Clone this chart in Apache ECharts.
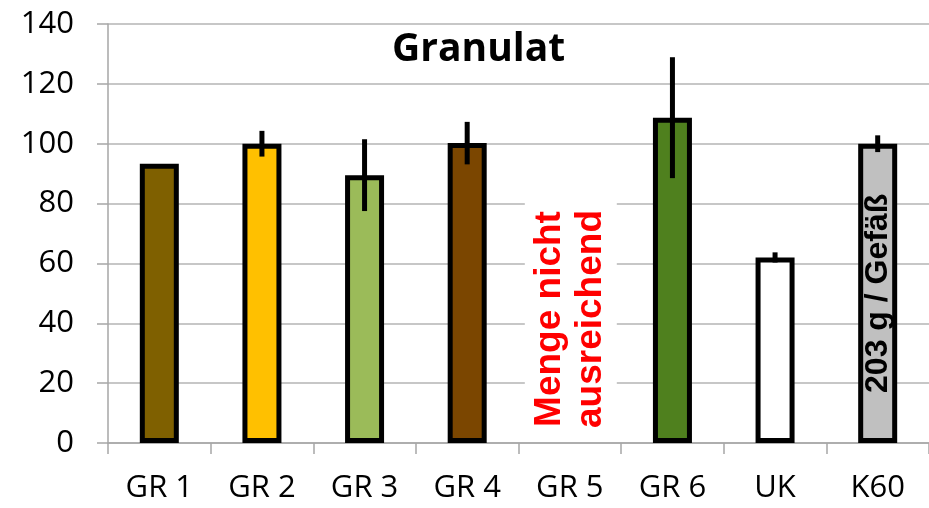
<!DOCTYPE html>
<html>
<head>
<meta charset="utf-8">
<script src="https://cdn.jsdelivr.net/npm/echarts@6/dist/echarts.min.js"></script>
<style>html,body{margin:0;padding:0;background:#fff}#c{width:929px;height:508px}</style>
</head>
<body>
<div id="c"></div>
<script>
var categories = ['GR 1','GR 2','GR 3','GR 4','GR 5','GR 6','UK','K60'];
var values = [93.3, 100, 89.5, 100.2, null, 108.7, 62, 100];
var errors = [0, 4.3, 12, 7.1, null, 20.2, 1.7, 2.8];
var barColors = ['#7F6000','#FFC000','#9BBB59','#7B4600','#FFFFFF','#4F801E','#FFFFFF','#C0C0C0'];
var yTicks = [0, 20, 40, 60, 80, 100, 120, 140];
var titleText = 'Granulat';
var noteText = 'Menge nicht\nausreichend';
var noteIndex = 4;
var barNote = '203 g / Gefäß';
var barNoteIndex = 7;

var chart = echarts.init(document.getElementById('c'));
var barData = values.map(function (v, i) {
  var item = { value: v, itemStyle: { color: barColors[i] } };
  if (i === barNoteIndex) {
    item.label = {
      show: true, position: 'inside', rotate: 90, formatter: barNote,
      fontFamily: 'Liberation Sans', fontWeight: 'bold', fontSize: 32, color: '#000'
    };
  }
  return item;
});
var errData = values.map(function (v, i) { return [i, v, errors[i]]; });

chart.setOption({
  animation: false,
  title: {
    text: titleText, left: 387, top: 25,
    textStyle: { fontFamily: 'Open Sans', fontWeight: 'bold', fontSize: 39, color: '#000' }
  },
  grid: { left: 108, right: 0, top: 24, bottom: 65 },
  xAxis: {
    type: 'category', data: categories,
    axisLine: { lineStyle: { color: '#A6A6A6', width: 1.5 } },
    axisTick: { show: true, length: 11, interval: 0, lineStyle: { color: '#A6A6A6', width: 1.5 } },
    axisLabel: { margin: 30, fontFamily: 'Open Sans', fontSize: 31, color: '#000', interval: 0 }
  },
  yAxis: {
    type: 'value', min: yTicks[0], max: yTicks[yTicks.length - 1], interval: yTicks[1] - yTicks[0],
    axisLine: { show: true, lineStyle: { color: '#A6A6A6', width: 1.5 } },
    axisTick: { show: true, length: 11, lineStyle: { color: '#A6A6A6', width: 1.5 } },
    splitLine: { lineStyle: { color: '#B4B4B4', width: 1.5 } },
    axisLabel: { margin: 34, fontFamily: 'Open Sans', fontSize: 31, color: '#000' }
  },
  series: [{
    type: 'bar', data: barData, barWidth: 39,
    itemStyle: { borderColor: '#000', borderWidth: 5 }
  }, {
    type: 'custom', data: errData, z: 10,
    renderItem: function (params, api) {
      var v = api.value(1), e = api.value(2);
      if (v == null || isNaN(v) || !e) return null;
      var p1 = api.coord([api.value(0), v + e]);
      var p2 = api.coord([api.value(0), v - e]);
      return { type: 'line', shape: { x1: p1[0], y1: p1[1], x2: p2[0], y2: p2[1] },
        style: { stroke: '#000', lineWidth: 5 } };
    }
  }]
});

var c = chart.convertToPixel({ xAxisIndex: 0 }, noteIndex);
var yb = chart.convertToPixel({ yAxisIndex: 0 }, 0);
chart.setOption({
  graphic: [{
    type: 'rect', z: 5, shape: { x: c - 45, y: yb - 240, width: 92, height: 238 },
    style: { fill: '#fff' }
  }, {
    type: 'text', z: 6, x: c, y: yb - 124, rotation: Math.PI / 2,
    style: {
      text: noteText, fill: '#FF0000', font: 'bold 37px "Liberation Sans"',
      align: 'center', verticalAlign: 'middle', lineHeight: 41
    }
  }]
});
</script>
</body>
</html>
